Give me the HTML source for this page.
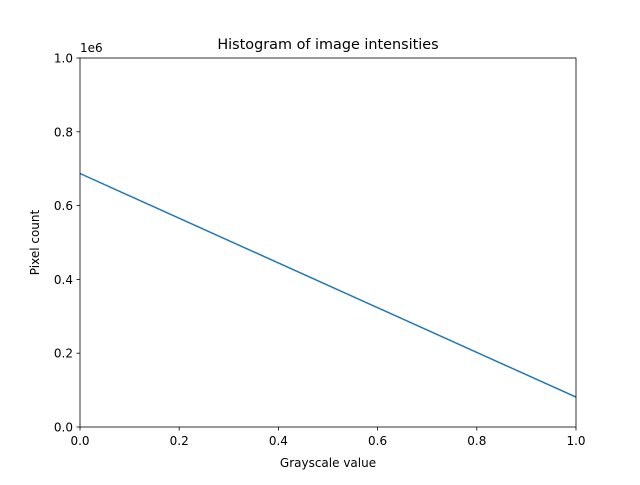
<!DOCTYPE html>
<html><head><meta charset="utf-8"><style>
body{margin:0;background:#fff;}
svg text{font-family:"DejaVu Sans","Liberation Sans",sans-serif;fill:#000;}
</style></head><body>
<svg id="chart" width="640" height="480" xmlns="http://www.w3.org/2000/svg">
<rect width="640" height="480" fill="#fff"/>
<text x="328" y="49" font-size="14.4" text-anchor="middle">Histogram of image intensities</text>
<text x="80" y="52" font-size="12">1e6</text>
<g id="ticks"></g>
<polyline id="line" fill="none" stroke="#1f77b4" stroke-width="1.5"/>
<rect x="80" y="58" width="496" height="369" fill="none" stroke="#000" stroke-width="0.8"/>
<text x="328" y="467" font-size="12" text-anchor="middle">Grayscale value</text>
<text x="0" y="0" font-size="12" text-anchor="middle" transform="translate(39,242.5) rotate(-90)">Pixel count</text>
</svg>
<script>
const xValues=[0,1];
const yValues=[0.687,0.081];
const xTicks=[0,0.2,0.4,0.6,0.8,1.0];
const yTicks=[0,0.2,0.4,0.6,0.8,1.0];
const sx=v=>80+v*496, sy=v=>427-v*369;
const NS="http://www.w3.org/2000/svg";
const g=document.getElementById('ticks');
xTicks.forEach(t=>{
 const l=document.createElementNS(NS,'line');
 l.setAttribute('x1',sx(t));l.setAttribute('x2',sx(t));l.setAttribute('y1',427);l.setAttribute('y2',430.5);l.setAttribute('stroke','#000');l.setAttribute('stroke-width','0.8');
 
 
 g.appendChild(l);
 const tx=document.createElementNS(NS,'text');
 tx.setAttribute('x',sx(t));tx.setAttribute('y',445);tx.setAttribute('font-size','12');tx.setAttribute('text-anchor','middle');
 tx.textContent=t.toFixed(1);
 
 
 g.appendChild(tx);
});
yTicks.forEach(t=>{
 const l=document.createElementNS(NS,'line');
 l.setAttribute('x1',76.5);l.setAttribute('x2',80);l.setAttribute('y1',sy(t));l.setAttribute('y2',sy(t));l.setAttribute('stroke','#000');l.setAttribute('stroke-width','0.8');
 
 
 g.appendChild(l);
 const tx=document.createElementNS(NS,'text');
 tx.setAttribute('x',73);tx.setAttribute('y',sy(t)+4.5);tx.setAttribute('font-size','12');tx.setAttribute('text-anchor','end');
 tx.textContent=t.toFixed(1);
 
 
 g.appendChild(tx);
});
document.getElementById('line').setAttribute('points',xValues.map((x,i)=>sx(x)+','+sy(yValues[i])).join(' '));
</script>
</body></html>
